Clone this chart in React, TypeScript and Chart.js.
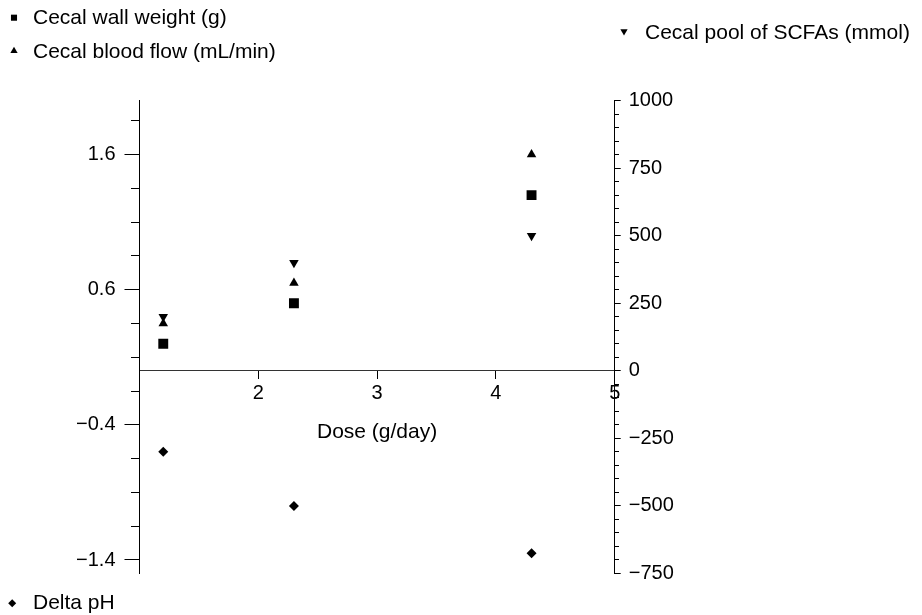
import React, { useEffect, useRef } from "react";
import { Chart, registerables } from "chart.js";
import { drawPoint } from "chart.js/helpers";

Chart.register(...registerables);

// ---- data ----
const doses = [1.2, 2.3, 4.3];
const cecalWallWeight = [0.2, 0.5, 1.3];
const cecalBloodFlow = [0.35, 0.65, 1.6];
const cecalPoolSCFAs = [200, 400, 500];
const deltaPH = [-0.6, -1.0, -1.35];

const seriesLabels = [
  "Cecal wall weight (g)",
  "Cecal blood flow (mL/min)",
  "Cecal pool of SCFAs (mmol)",
  "Delta pH",
];
const xAxisTitle = "Dose (g/day)";

const xTickValues = [2, 3, 4, 5];
const leftMajorTicks = [-1.4, -0.4, 0.6, 1.6];
const leftMinorStep = 0.25;
const rightMajorTicks = [-750, -500, -250, 0, 250, 500, 750, 1000];
const rightMinorStep = 50;

// ---- style / layout ----
const FONT = "'Liberation Sans', Arial, Helvetica, sans-serif";
const TICK_SIZE = 20;
const TEXT_SIZE = 21;

const legendLayout = [
  { ds: 0, mx: 14, my: 17.7, r: 4.3, tx: 33, ty: 18 },
  { ds: 1, mx: 14, my: 51, r: 4.2, tx: 33, ty: 52 },
  { ds: 2, mx: 624, my: 31.3, r: 4.2, tx: 645, ty: 33 },
  { ds: 3, mx: 12.2, my: 603.3, r: 4, tx: 33, ty: 603 },
];

function fmt(v: number): string {
  const s = Math.abs(v).toString();
  return v < 0 ? "\u2212" + s : s;
}
function near(a: number, b: number) {
  return Math.abs(a - b) < 1e-6;
}

const leftMin = -1.5;
const leftMax = 2.0;
const rightMin = -750;
const rightMax = 1000;

function buildLeftTicks() {
  const out: number[] = [];
  for (let v = leftMajorTicks[0]; v <= leftMax + 1e-9; v += leftMinorStep) {
    out.push(Math.round(v * 100) / 100);
  }
  return out;
}
function buildRightTicks() {
  const out: number[] = [];
  for (let v = rightMin; v <= rightMax; v += rightMinorStep) out.push(v);
  return out;
}

const legendPlugin = {
  id: "cornerLegends",
  afterDraw(chart: any) {
    const ctx = chart.ctx;
    ctx.save();
    ctx.font = `${TEXT_SIZE}px ${FONT}`;
    ctx.textBaseline = "middle";
    ctx.textAlign = "left";
    for (const item of legendLayout) {
      const ds = chart.data.datasets[item.ds];
      ctx.fillStyle = "#000";
      ctx.strokeStyle = "#000";
      drawPoint(
        ctx,
        {
          pointStyle: ds.pointStyle,
          rotation: ds.pointRotation || 0,
          radius: item.r,
          borderWidth: 0,
        },
        item.mx,
        item.my
      );
      ctx.fillStyle = "#000";
      ctx.fillText(ds.label, item.tx, item.ty);
    }
    ctx.restore();
  },
};

export default function App() {
  const ref = useRef<HTMLCanvasElement | null>(null);

  useEffect(() => {
    if (!ref.current) return;
    const leftTicks = buildLeftTicks();
    const rightTicks = buildRightTicks();
    const pts = (ys: number[]) => doses.map((x, i) => ({ x, y: ys[i] }));

    const chart = new Chart(ref.current, {
      type: "scatter",
      data: {
        datasets: [
          {
            label: seriesLabels[0],
            data: pts(cecalWallWeight),
            yAxisID: "y",
            pointStyle: "rect",
            pointRadius: 7,
            pointBackgroundColor: "#000",
            pointBorderWidth: 0,
          },
          {
            label: seriesLabels[1],
            data: pts(cecalBloodFlow),
            yAxisID: "y",
            pointStyle: "triangle",
            pointRadius: 5.5,
            pointBackgroundColor: "#000",
            pointBorderWidth: 0,
          },
          {
            label: seriesLabels[2],
            data: pts(cecalPoolSCFAs),
            yAxisID: "y2",
            pointStyle: "triangle",
            pointRotation: 180,
            pointRadius: 5.5,
            pointBackgroundColor: "#000",
            pointBorderWidth: 0,
          },
          {
            label: seriesLabels[3],
            data: pts(deltaPH),
            yAxisID: "y",
            pointStyle: "rectRot",
            pointRadius: 5,
            pointBackgroundColor: "#000",
            pointBorderWidth: 0,
          },
        ] as any,
      },
      options: {
        animation: false,
        responsive: false,
        devicePixelRatio: 1,
        events: [],
        layout: {
          padding: { top: 100.5, left: 0, right: 200, bottom: 41.5 },
        },
        plugins: {
          legend: { display: false },
          tooltip: { enabled: false },
        },
        scales: {
          x: {
            type: "linear",
            min: 1,
            max: 5,
            position: { y: 0 } as any,
            afterBuildTicks: (s: any) => {
              s.ticks = xTickValues.map((v) => ({ value: v }));
            },
            afterFit: (s: any) => {
              s.height = 74;
            },
            ticks: {
              autoSkip: false,
              maxRotation: 0,
              padding: 3,
              color: "#000",
              font: { size: TICK_SIZE, family: FONT },
              callback: (v: any) => fmt(Number(v)),
            },
            grid: {
              drawOnChartArea: false,
              tickLength: 8,
              color: "#000",
              tickColor: "#000",
            },
            border: { display: true, color: "#333", width: 1 },
            title: {
              display: true,
              text: xAxisTitle,
              color: "#000",
              font: { size: TEXT_SIZE, family: FONT },
              padding: 0,
            },
          },
          y: {
            type: "linear",
            position: "left",
            min: leftMin,
            max: leftMax,
            afterBuildTicks: (s: any) => {
              s.ticks = leftTicks.map((v) => ({ value: v }));
            },
            afterFit: (s: any) => {
              s.width = 139.5;
            },
            ticks: {
              autoSkip: false,
              padding: 9,
              color: "#000",
              font: { size: TICK_SIZE, family: FONT },
              callback: (v: any) => {
                const n = Number(v);
                return leftMajorTicks.some((m) => near(m, n)) ? fmt(n) : "";
              },
            },
            grid: {
              drawOnChartArea: false,
              tickLength: 15,
              color: "#000",
              tickColor: "#000",
              // left ticks are stroked from their outer end toward the axis:
              // minor ticks skip the outer 6.5px and keep the inner 8px
              tickBorderDash: (c: any) =>
                leftMajorTicks.some((m) => near(m, c.tick?.value)) ? [] : [8, 6.5],
              tickBorderDashOffset: (c: any) =>
                leftMajorTicks.some((m) => near(m, c.tick?.value)) ? 0 : 8,
            } as any,
            border: { display: true, color: "#000", width: 1 },
          },
          y2: {
            type: "linear",
            position: "right",
            min: rightMin,
            max: rightMax,
            afterBuildTicks: (s: any) => {
              s.ticks = rightTicks.map((v) => ({ value: v }));
            },
            afterFit: (s: any) => {
              s.width = 107.3;
            },
            ticks: {
              autoSkip: false,
              padding: 8,
              color: "#000",
              font: { size: TICK_SIZE, family: FONT },
              callback: (v: any) => {
                const n = Number(v);
                return rightMajorTicks.some((m) => near(m, n)) ? fmt(n) : "";
              },
            },
            grid: {
              drawOnChartArea: false,
              tickLength: 6,
              color: "#000",
              tickColor: "#000",
              tickBorderDash: (c: any) =>
                rightMajorTicks.some((m) => near(m, c.tick?.value)) ? [] : [4, 100],
            } as any,
            border: { display: true, color: "#000", width: 1 },
          },
        },
      },
      plugins: [legendPlugin],
    });
    return () => chart.destroy();
  }, []);

  return (
    <div
      style={{
        position: "fixed",
        left: 0,
        top: 0,
        width: 922,
        height: 615,
        background: "#fff",
        overflow: "hidden",
      }}
    >
      <canvas ref={ref} width={922} height={615} style={{ display: "block" }} />
    </div>
  );
}
